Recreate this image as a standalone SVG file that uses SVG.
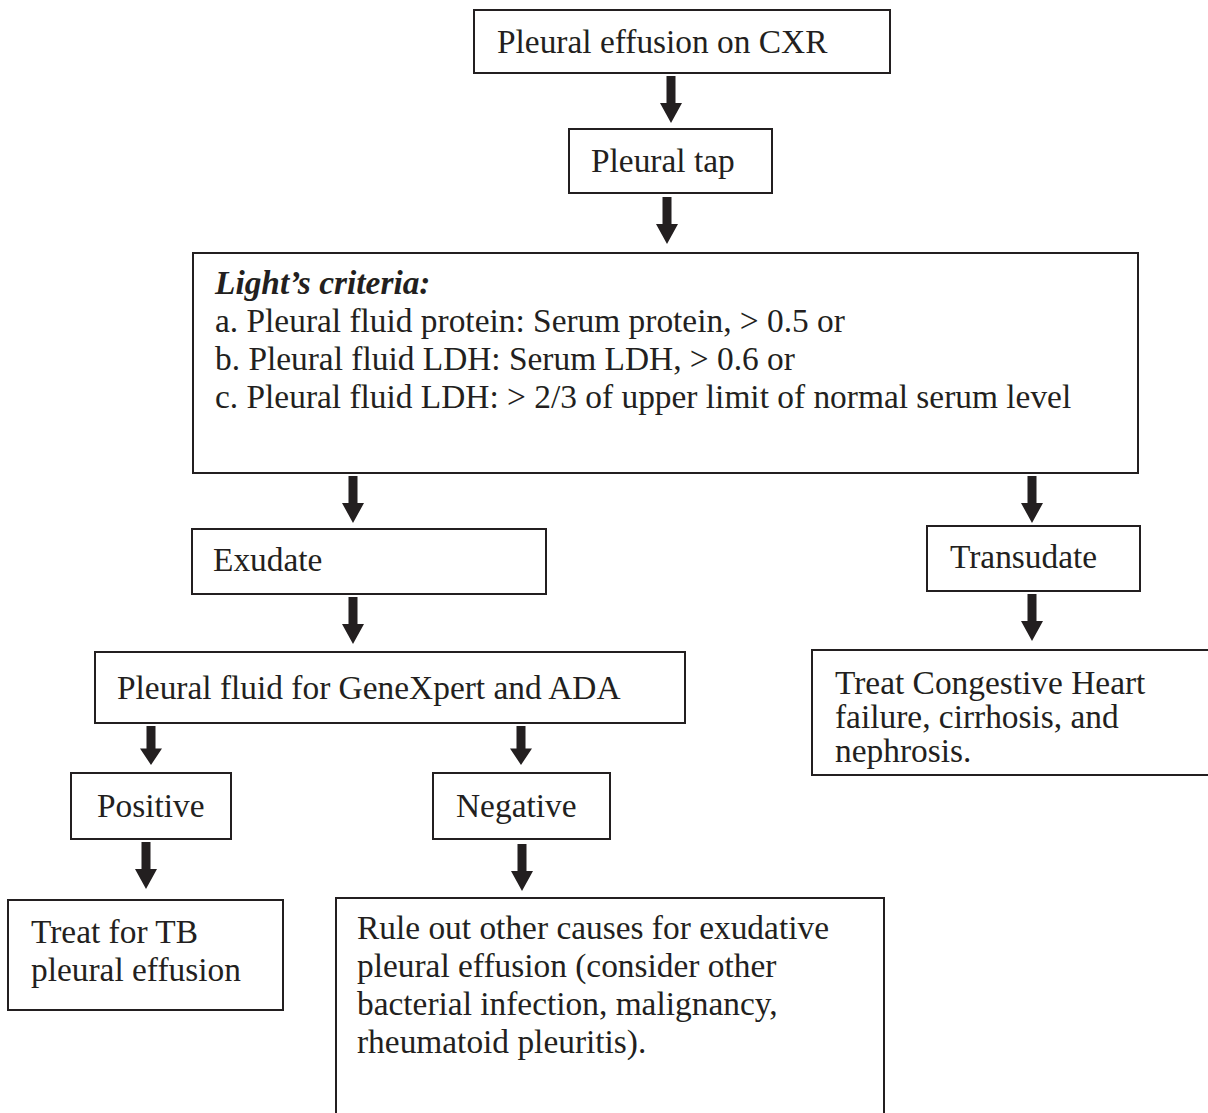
<svg xmlns="http://www.w3.org/2000/svg" xmlns:xlink="http://www.w3.org/1999/xlink" width="1208" height="1113" viewBox="0 0 1208 1113">
<style>
.box{fill:#fff;stroke:#231f20;stroke-width:2}
.t{font-family:"Liberation Serif","Times New Roman",serif;font-size:33.4px;fill:#231f20}
.bi{font-weight:bold;font-style:italic}
.arr{fill:#231f20}
</style>
<defs>
<path id="arrow" class="arr" d="M-4.5,0 H4.5 V27 H11 L0,47 L-11,27 H-4.5 Z"/>
</defs>
<rect width="1208" height="1113" fill="#fff"/>
<g id="connectors">
<use xlink:href="#arrow" href="#arrow" x="671" y="76"/>
<use xlink:href="#arrow" href="#arrow" x="667" y="197"/>
<use xlink:href="#arrow" href="#arrow" x="353" y="476"/>
<use xlink:href="#arrow" href="#arrow" x="1032" y="476"/>
<use xlink:href="#arrow" href="#arrow" x="353" y="597"/>
<use xlink:href="#arrow" href="#arrow" x="1032" y="594"/>
<use xlink:href="#arrow" href="#arrow" transform="translate(151,726) scale(1,0.83)"/>
<use xlink:href="#arrow" href="#arrow" transform="translate(521,726) scale(1,0.83)"/>
<use xlink:href="#arrow" href="#arrow" x="146" y="842"/>
<use xlink:href="#arrow" href="#arrow" x="522" y="844"/>
</g>
<g id="n-cxr">
<rect class="box" x="474" y="10" width="416" height="63"/>
<text class="t" x="497" y="53">Pleural effusion on CXR</text>
</g>
<g id="n-tap">
<rect class="box" x="569" y="129" width="203" height="64"/>
<text class="t" x="591" y="172">Pleural tap</text>
</g>
<g id="n-light">
<rect class="box" x="193" y="253" width="945" height="220"/>
<text class="t" x="215" y="294"><tspan class="bi">Light’s criteria:</tspan></text>
<text class="t" x="215" y="332">a. Pleural fluid protein: Serum protein, &gt; 0.5 or</text>
<text class="t" x="215" y="370">b. Pleural fluid LDH: Serum LDH, &gt; 0.6 or</text>
<text class="t" x="215" y="408">c. Pleural fluid LDH: &gt; 2/3 of upper limit of normal serum level</text>
</g>
<g id="n-exudate">
<rect class="box" x="192" y="529" width="354" height="65"/>
<text class="t" x="213" y="571">Exudate</text>
</g>
<g id="n-transudate">
<rect class="box" x="927" y="526" width="213" height="65"/>
<text class="t" x="950" y="568">Transudate</text>
</g>
<g id="n-genexpert">
<rect class="box" x="95" y="652" width="590" height="71"/>
<text class="t" x="117" y="699">Pleural fluid for GeneXpert and ADA</text>
</g>
<g id="n-chf">
<rect class="box" x="812" y="650" width="410" height="125"/>
<text class="t" x="835" y="694">Treat Congestive Heart</text>
<text class="t" x="835" y="728">failure, cirrhosis, and</text>
<text class="t" x="835" y="762">nephrosis.</text>
</g>
<g id="n-positive">
<rect class="box" x="71" y="773" width="160" height="66"/>
<text class="t" x="97" y="817">Positive</text>
</g>
<g id="n-negative">
<rect class="box" x="433" y="773" width="177" height="66"/>
<text class="t" x="456" y="817">Negative</text>
</g>
<g id="n-tb">
<rect class="box" x="8" y="900" width="275" height="110"/>
<text class="t" x="31" y="943">Treat for TB</text>
<text class="t" x="31" y="981">pleural effusion</text>
</g>
<g id="n-ruleout">
<rect class="box" x="336" y="898" width="548" height="240"/>
<text class="t" x="357" y="939">Rule out other causes for exudative</text>
<text class="t" x="357" y="977">pleural effusion (consider other</text>
<text class="t" x="357" y="1015">bacterial infection, malignancy,</text>
<text class="t" x="357" y="1053">rheumatoid pleuritis).</text>
</g>
</svg>
